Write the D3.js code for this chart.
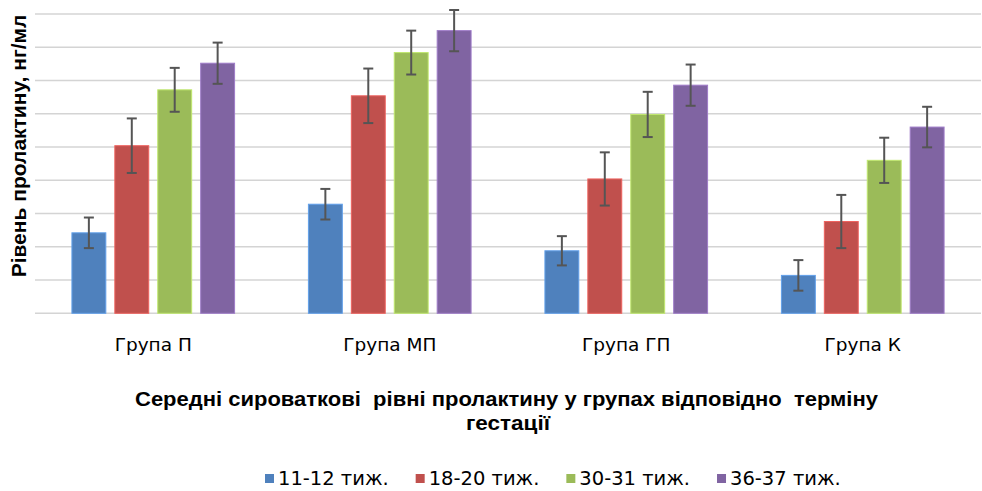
<!DOCTYPE html>
<html>
<head>
<meta charset="utf-8">
<script src="https://cdn.jsdelivr.net/npm/d3@7"></script>
<style>
  body { margin: 0; background: #fff; }
  svg { display: block; }
</style>
</head>
<body>
<div id="chart"></div>
<script>
// groups along the x axis
const groups = ["Група П", "Група МП", "Група ГП", "Група К"];
// gestation terms (series)
const terms = ["11-12 тиж.", "18-20 тиж.", "30-31 тиж.", "36-37 тиж."];
const colors = ["#4F81BD", "#C0504D", "#9BBB59", "#8064A2"];

// mean prolactin, one array per term, in group order
const week11 = [12.1, 16.4, 9.4, 5.7];
const week18 = [25.2, 32.7, 20.2, 13.8];
const week30 = [33.6, 39.2, 29.9, 23.0];
const week36 = [37.6, 42.5, 34.3, 28.0];
// error bar half-lengths
const err11 = [2.3, 2.3, 2.2, 2.3];
const err18 = [4.1, 4.1, 4.0, 4.0];
const err30 = [3.3, 3.3, 3.4, 3.4];
const err36 = [3.1, 3.1, 3.1, 3.05];

const yTicks = [0, 5, 10, 15, 20, 25, 30, 35, 40, 45];

const means = [week11, week18, week30, week36];
const errs = [err11, err18, err30, err36];

const size = { width: 982, height: 491 };
const plot = { left: 35, right: 981, top: 14, bottom: 313.3 };

const svg = d3
  .select("#chart")
  .append("svg")
  .attr("width", size.width)
  .attr("height", size.height);

const x0 = d3.scaleBand().domain(groups).range([plot.left, plot.right]);
const x1 = d3
  .scaleBand()
  .domain(terms)
  .range([0, x0.bandwidth()])
  .paddingInner(0.21)
  .paddingOuter(0.86);
const y = d3.scaleLinear().domain([0, 45]).range([plot.bottom, plot.top]);

// gridlines
svg
  .append("g")
  .selectAll("line")
  .data(yTicks)
  .join("line")
  .attr("x1", plot.left)
  .attr("x2", plot.right)
  .attr("y1", (d) => y(d))
  .attr("y2", (d) => y(d))
  .attr("stroke", "#d4d4d4")
  .attr("stroke-width", 1.5);

const rows = [];
groups.forEach((g, gi) => {
  terms.forEach((t, ti) => {
    rows.push({ group: g, term: t, ti, value: means[ti][gi], err: errs[ti][gi] });
  });
});

// bars
svg
  .append("g")
  .selectAll("rect")
  .data(rows)
  .join("rect")
  .attr("x", (d) => x0(d.group) + x1(d.term))
  .attr("y", (d) => y(d.value))
  .attr("width", x1.bandwidth())
  .attr("height", (d) => y(0) - y(d.value))
  .attr("fill", (d) => colors[d.ti])
  .attr("stroke", (d) => d3.color(colors[d.ti]).brighter(0.6))
  .attr("stroke-width", 1);

// error bars
const eb = svg
  .append("g")
  .attr("stroke", "#555")
  .attr("stroke-width", 2)
  .selectAll("g")
  .data(rows)
  .join("g")
  .attr("transform", (d) => `translate(${x0(d.group) + x1(d.term) + x1.bandwidth() / 2},0)`);

eb.append("line")
  .attr("y1", (d) => y(d.value + d.err))
  .attr("y2", (d) => y(d.value - d.err));
eb.append("line")
  .attr("x1", -5)
  .attr("x2", 5)
  .attr("y1", (d) => y(d.value + d.err))
  .attr("y2", (d) => y(d.value + d.err));
eb.append("line")
  .attr("x1", -5)
  .attr("x2", 5)
  .attr("y1", (d) => y(d.value - d.err))
  .attr("y2", (d) => y(d.value - d.err));

// category labels
svg
  .append("g")
  .selectAll("text")
  .data(groups)
  .join("text")
  .attr("x", (d) => x0(d) + x0.bandwidth() / 2)
  .attr("y", 350.5)
  .attr("text-anchor", "middle")
  .style("font-family", "DejaVu Sans, sans-serif")
  .style("font-size", "18.5px")
  .attr("fill", "#000")
  .text((d) => d);

// y axis title
svg
  .append("text")
  .attr("transform", "translate(26,146) rotate(-90)")
  .attr("text-anchor", "middle")
  .style("font-family", "Liberation Sans, Arial, sans-serif")
  .style("font-weight", "bold")
  .style("font-size", "21px")
  .text("Рівень пролактину, нг/мл");

// chart title (below the axis), stretched a bit like the original
const title = svg
  .append("g")
  .style("font-family", "Liberation Sans, Arial, sans-serif")
  .style("font-weight", "bold")
  .style("font-size", "20px");
title
  .append("text")
  .attr("x", 135)
  .attr("y", 405.7)
  .attr("textLength", 743)
  .attr("lengthAdjust", "spacingAndGlyphs")
  .style("white-space", "pre")
  .text("Середні сироваткові  рівні пролактину у групах відповідно  терміну");
title
  .append("text")
  .attr("x", 508)
  .attr("y", 430)
  .attr("text-anchor", "middle")
  .attr("textLength", 84)
  .attr("lengthAdjust", "spacingAndGlyphs")
  .text("гестації");

// legend
const legend = svg.append("g");
let lx = 265;
terms.forEach((t, i) => {
  legend
    .append("rect")
    .attr("x", lx)
    .attr("y", 474)
    .attr("width", 9)
    .attr("height", 9)
    .attr("fill", colors[i]);
  const txt = legend
    .append("text")
    .attr("x", lx + 13)
    .attr("y", 485)
    .style("font-family", "DejaVu Sans, sans-serif")
    .style("font-size", "19.5px")
    .text(t);
  lx += 13 + txt.node().getComputedTextLength() + 27;
});
</script>
</body>
</html>
